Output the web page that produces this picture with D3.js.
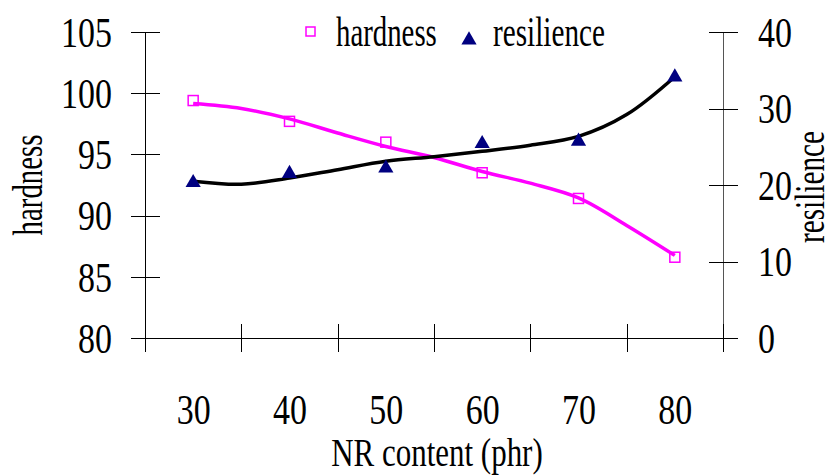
<!DOCTYPE html>
<html>
<head>
<meta charset="utf-8">
<script src="https://cdn.jsdelivr.net/npm/d3@7"></script>
<style>
  body { margin: 0; background: #fff; }
  svg { display: block; font-family: "Liberation Serif", "Times New Roman", serif; }
</style>
</head>
<body>
<div id="chart"></div>
<script>
// NR content categories and measured values
const nrContent = [30, 40, 50, 60, 70, 80];
const hardness = [99.4, 97.7, 96.0, 93.5, 91.4, 86.6];
const resilience = [20.3, 21.5, 22.2, 25.4, 25.7, 34.1];

// trend lines (every 5 phr)
const fitX = [30, 35, 40, 45, 50, 55, 60, 65, 70, 75, 80];
const hardnessFit = [99.15, 98.75, 97.9, 96.75, 95.65, 94.75, 93.6, 92.65, 91.45, 89.2, 86.75];
const resilienceFit = [20.5, 20.1, 20.9, 22.0, 23.1, 23.7, 24.4, 25.2, 26.35, 29.2, 34.15];

const hardnessTicks = [80, 85, 90, 95, 100, 105];
const resilienceTicks = [0, 10, 20, 30, 40];
const xBoundaries = [25, 35, 45, 55, 65, 75, 85];

const width = 832, height = 475;
const plotLeft = 145, plotRight = 723, plotTop = 32, plotBottom = 338;

const svg = d3.select("#chart").append("svg")
    .attr("width", width)
    .attr("height", height);

const x = d3.scaleLinear().domain([25, 85]).range([plotLeft, plotRight]);
const yH = d3.scaleLinear().domain([80, 105]).range([plotBottom, plotTop]);
const yR = d3.scaleLinear().domain([0, 40]).range([plotBottom, plotTop]);

// squeeze text horizontally like the condensed original
function squeeze(k) {
    return function () {
        const len = this.getComputedTextLength();
        d3.select(this).attr("textLength", len * k).attr("lengthAdjust", "spacingAndGlyphs");
    };
}

const fontSize = 43;

// d3 axes put sans-serif on the group, drop it so the serif face applies
function styleAxis(g) {
    g.attr("font-family", null).attr("font-size", null);
}

// left axis
const gL = svg.append("g")
    .attr("transform", `translate(${plotLeft},0)`)
    .call(d3.axisLeft(yH).tickValues(hardnessTicks).tickSizeOuter(0).tickSizeInner(14).tickPadding(19))
    .call(styleAxis);
gL.selectAll(".tick line").attr("x1", 15);
gL.selectAll("text").attr("font-size", fontSize).attr("dy", "0.33em").each(squeeze(0.79));

// right axis
const gR = svg.append("g")
    .attr("transform", `translate(${plotRight},0)`)
    .call(d3.axisRight(yR).tickValues(resilienceTicks).tickSizeOuter(0).tickSizeInner(15).tickPadding(20))
    .call(styleAxis);
gR.selectAll(".tick line").attr("x1", -14);
gR.select(".domain").attr("stroke", "#555");
gR.selectAll("text").attr("font-size", fontSize).attr("dy", "0.33em").each(squeeze(0.79));

// bottom axis: boundary ticks
const gB = svg.append("g")
    .attr("transform", `translate(0,${plotBottom})`)
    .call(d3.axisBottom(x).tickValues(xBoundaries).tickSizeOuter(0).tickSizeInner(14).tickFormat(""));
gB.selectAll(".tick line").attr("y1", -14);

// category labels in the band centres
const gBL = svg.append("g")
    .attr("transform", `translate(0,${plotBottom})`)
    .call(d3.axisBottom(x).tickValues(nrContent).tickSize(0).tickPadding(0))
    .call(styleAxis);
gBL.select(".domain").remove();
gBL.selectAll("text").attr("font-size", fontSize)
    .attr("y", 86).attr("dy", 0).each(squeeze(0.79));

svg.selectAll(".domain, .tick line").attr("shape-rendering", "crispEdges");

// trend lines
const line = (ys, yScale) => d3.line()
    .x((d, i) => x(fitX[i]))
    .y(d => yScale(d))
    .curve(d3.curveCatmullRom.alpha(0.5))(ys);

svg.append("path")
    .attr("d", line(hardnessFit, yH))
    .attr("fill", "none")
    .attr("stroke", "#ff00ff")
    .attr("stroke-width", 3.5);

svg.append("path")
    .attr("d", line(resilienceFit, yR))
    .attr("fill", "none")
    .attr("stroke", "#000")
    .attr("stroke-width", 3.5);

// markers
const tri = d3.symbol().type(d3.symbolTriangle).size(100);

svg.selectAll(".hard")
    .data(hardness)
    .enter()
    .append("rect")
        .attr("class", "hard")
        .attr("x", (d, i) => x(nrContent[i]) - 5)
        .attr("y", d => yH(d) - 5)
        .attr("width", 10)
        .attr("height", 10)
        .attr("fill", "none")
        .attr("stroke", "#ff00ff")
        .attr("stroke-width", 1.5);

svg.selectAll(".res")
    .data(resilience)
    .enter()
    .append("path")
        .attr("class", "res")
        .attr("d", tri)
        .attr("transform", (d, i) => `translate(${x(nrContent[i])},${yR(d)})`)
        .attr("fill", "#000080");

// legend
const legend = svg.append("g");
legend.append("rect")
    .attr("x", 306).attr("y", 27).attr("width", 9).attr("height", 9)
    .attr("fill", "none").attr("stroke", "#ff00ff").attr("stroke-width", 1.5);
legend.append("text")
    .attr("x", 336).attr("y", 46).attr("font-size", fontSize)
    .text("hardness").each(squeeze(0.67));
legend.append("path")
    .attr("d", tri)
    .attr("transform", "translate(469,40)")
    .attr("fill", "#000080");
legend.append("text")
    .attr("x", 493).attr("y", 46).attr("font-size", fontSize)
    .text("resilience").each(squeeze(0.68));

// axis titles
svg.append("text")
    .attr("transform", `translate(42,${(plotTop + plotBottom) / 2}) rotate(-90)`)
    .attr("text-anchor", "middle")
    .attr("font-size", fontSize)
    .text("hardness").each(squeeze(0.67));

svg.append("text")
    .attr("transform", `translate(824,${(plotTop + plotBottom) / 2 + 2}) rotate(-90)`)
    .attr("text-anchor", "middle")
    .attr("font-size", fontSize)
    .text("resilience").each(squeeze(0.68));

svg.append("text")
    .attr("x", (plotLeft + plotRight) / 2 + 3)
    .attr("y", 466)
    .attr("text-anchor", "middle")
    .attr("font-size", 41)
    .text("NR content (phr)").each(squeeze(0.755));
</script>
</body>
</html>
